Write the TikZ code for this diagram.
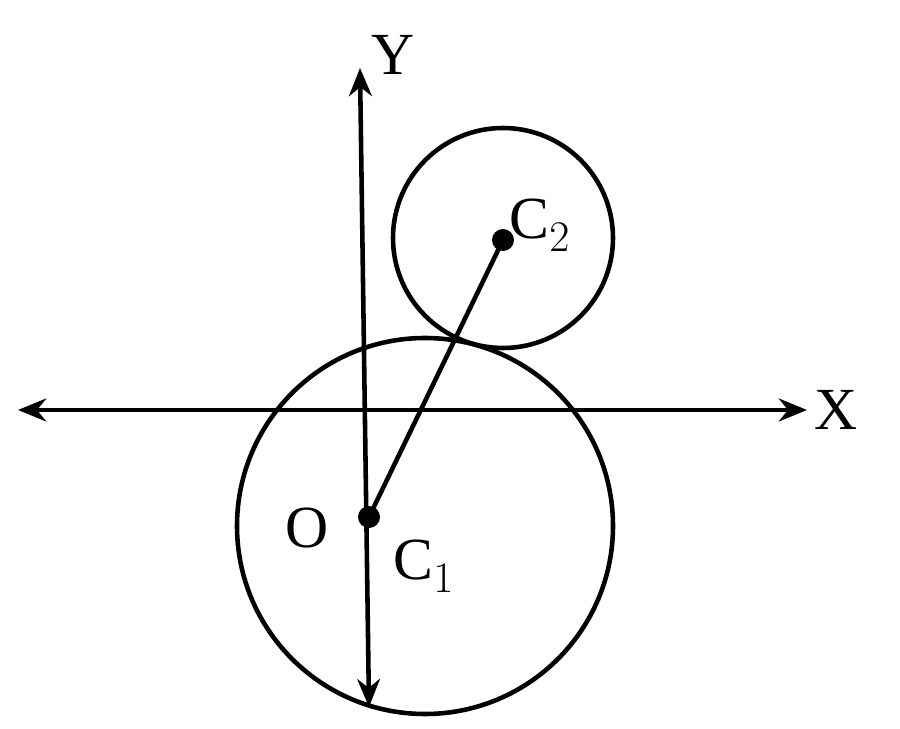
\documentclass[tikz,border=0pt]{standalone}
\usepackage{fontspec}
\setmainfont{Liberation Serif}
\usetikzlibrary{arrows.meta}
\begin{document}
\begin{tikzpicture}[x=0.02cm,y=-0.02cm,line width=2.6pt]
\tikzstyle{every node}+=[inner sep=0pt,font=\fontsize{34}{40}\selectfont]
\tikzstyle{axis}=[{Stealth[length=16pt,width=13pt]}-{Stealth[length=16pt,width=13pt]}]
\useasboundingbox (0,0) rectangle (900,729);
% axes
\coordinate (ytop) at (360,68);
\coordinate (ybot) at (369,707);
\coordinate (xl) at (18,410);
\coordinate (xr) at (807,410);
\draw [axis] (ytop) -- (ybot);
\draw [axis] (xl) -- (xr);
\node (Y) at (393,55) {Y};
\node (X) at (836,410) {X};
% circles
\coordinate (c1) at (425,526);
\coordinate (c2) at (503,238);
\draw (c1) circle (188);
\draw (c2) circle (110);
% centres
\coordinate (C1) at (369,517);
\coordinate (C2) at (503,240);
\draw (C1) -- (C2);
\fill (C1) circle (11);
\fill (C2) circle (11);
\node (O) at (307,528) {O};
\node (lC1) at (424,566) {C$_1$};
\node (lC2) at (540,225) {C$_2$};
\end{tikzpicture}
\end{document}
